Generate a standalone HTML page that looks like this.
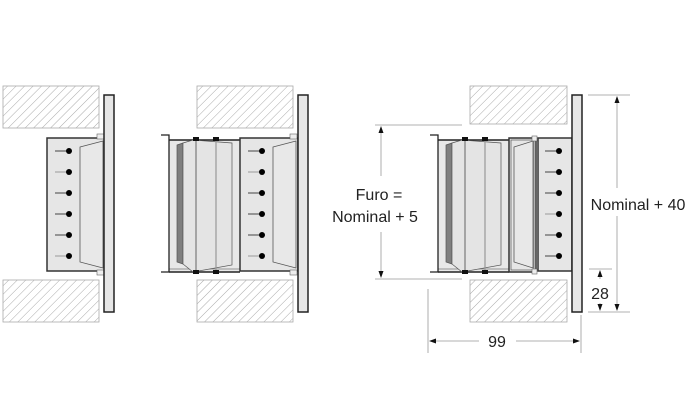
<!DOCTYPE html>
<html><head><meta charset="utf-8"><style>
html,body{margin:0;padding:0;background:#fff;}
svg{display:block;}
text{font-family:"Liberation Sans",sans-serif;fill:#222;}
</style></head><body>
<svg width="690" height="420" viewBox="0 0 690 420" xmlns="http://www.w3.org/2000/svg">
<defs>
<pattern id="h" patternUnits="userSpaceOnUse" width="6" height="6" patternTransform="rotate(45)">
<line x1="0" y1="0" x2="0" y2="6" stroke="#aaa" stroke-width="1"/>
</pattern>
<g id="grille">
<rect x="0" y="138" width="58" height="133" fill="#e6e6e6" stroke="#333" stroke-width="1.5"/>
<path d="M33 147 L56 141 L56 268 L33 262 Z" fill="#e8e8e8" stroke="#555" stroke-width="0.8"/>
<rect x="50" y="134" width="7" height="5" fill="#eee" stroke="#666" stroke-width="0.6"/>
<rect x="50" y="270" width="7" height="5" fill="#eee" stroke="#666" stroke-width="0.6"/>
<g stroke="#444" stroke-width="1">
<line x1="8" y1="151" x2="22" y2="151"/><line x1="8" y1="172" x2="22" y2="172" stroke="#999"/>
<line x1="8" y1="193" x2="22" y2="193"/><line x1="8" y1="214" x2="22" y2="214"/>
<line x1="8" y1="235" x2="22" y2="235"/><line x1="8" y1="256" x2="22" y2="256" stroke="#999"/>
</g>
<g fill="#000">
<circle cx="22" cy="151" r="3"/><circle cx="22" cy="172" r="3"/><circle cx="22" cy="193" r="3"/>
<circle cx="22" cy="214" r="3"/><circle cx="22" cy="235" r="3"/><circle cx="22" cy="256" r="3"/>
</g>
</g>
<g id="flange">
<rect x="0" y="95" width="10" height="217" fill="#e6e6e6" stroke="#222" stroke-width="1.5"/>
</g>
<g id="damper">
<rect x="0" y="140" width="71" height="132" fill="#e8e8e8" stroke="none"/>
<line x1="0" y1="140" x2="71" y2="140" stroke="#222" stroke-width="1.5"/>
<line x1="0" y1="272" x2="71" y2="272" stroke="#222" stroke-width="1.5"/>
<line x1="0" y1="269" x2="71" y2="269" stroke="#777" stroke-width="0.7"/>
<path d="M-8 135 L0 135 L0 272 L-8 272" fill="none" stroke="#222" stroke-width="1.3"/>
<path d="M8 145 L14 143 L14 264 L8 262 Z" fill="#7f7f7f" stroke="#555" stroke-width="0.7"/>
<path d="M14 143 L24 140 L63 143 L63 265 L24 272 L14 264 Z" fill="#e4e4e4" stroke="#555" stroke-width="0.7"/>
<line x1="27" y1="140" x2="27" y2="272" stroke="#444" stroke-width="0.8"/>
<line x1="47" y1="140" x2="47" y2="272" stroke="#999" stroke-width="1.2"/>
<rect x="24" y="137" width="6" height="4" fill="#111"/><rect x="44" y="137" width="6" height="4" fill="#111"/>
<rect x="24" y="270" width="6" height="4" fill="#111"/><rect x="44" y="270" width="6" height="4" fill="#111"/>
</g>
</defs>

<rect x="3" y="86" width="96" height="42" fill="url(#h)" stroke="#aaa" stroke-width="0.8"/>
<rect x="3" y="280" width="96" height="42" fill="url(#h)" stroke="#aaa" stroke-width="0.8"/>
<rect x="197" y="86" width="96" height="42" fill="url(#h)" stroke="#aaa" stroke-width="0.8"/>
<rect x="197" y="280" width="96" height="42" fill="url(#h)" stroke="#aaa" stroke-width="0.8"/>
<rect x="470" y="86" width="97" height="38" fill="url(#h)" stroke="#aaa" stroke-width="0.8"/>
<rect x="470" y="280" width="97" height="42" fill="url(#h)" stroke="#aaa" stroke-width="0.8"/>

<use href="#grille" x="47"/>
<use href="#flange" x="104"/>

<use href="#damper" x="169"/>
<use href="#grille" x="240"/>
<use href="#flange" x="298"/>

<use href="#damper" x="438"/>
<rect x="509" y="138" width="27" height="134" fill="#e6e6e6" stroke="#333" stroke-width="1.5"/>
<rect x="511" y="140" width="23" height="130" fill="none" stroke="#555" stroke-width="0.7"/>
<path d="M514 147 L533 141 L533 268 L514 262 Z" fill="#e8e8e8" stroke="#555" stroke-width="0.8"/>
<rect x="532" y="136" width="5" height="5" fill="#eee" stroke="#666" stroke-width="0.6"/>
<rect x="532" y="269" width="5" height="5" fill="#eee" stroke="#666" stroke-width="0.6"/>
<rect x="538" y="138" width="34" height="133" fill="#e6e6e6" stroke="#333" stroke-width="1.5"/>
<g stroke="#444" stroke-width="1">
<line x1="545" y1="151" x2="559" y2="151"/><line x1="545" y1="172" x2="559" y2="172"/>
<line x1="545" y1="193" x2="559" y2="193"/><line x1="545" y1="214" x2="559" y2="214" stroke="#999"/>
<line x1="545" y1="235" x2="559" y2="235"/><line x1="545" y1="256" x2="559" y2="256"/>
</g>
<g fill="#000">
<circle cx="559" cy="151" r="3"/><circle cx="559" cy="172" r="3"/><circle cx="559" cy="193" r="3"/>
<circle cx="559" cy="214" r="3"/><circle cx="559" cy="235" r="3"/><circle cx="559" cy="256" r="3"/>
</g>
<use href="#flange" x="572"/>

<g stroke="#999" stroke-width="0.8" fill="none">
<line x1="375" y1="125" x2="462" y2="125"/>
<line x1="375" y1="279" x2="462" y2="279"/>
<line x1="381" y1="130" x2="381" y2="176"/>
<line x1="381" y1="232" x2="381" y2="274"/>
<line x1="588" y1="95" x2="630" y2="95"/>
<line x1="588" y1="312" x2="630" y2="312"/>
<line x1="617" y1="100" x2="617" y2="188"/>
<line x1="617" y1="216" x2="617" y2="307"/>
<line x1="589" y1="269" x2="612" y2="269"/>
<line x1="600" y1="274" x2="600" y2="279"/>
<line x1="600" y1="303" x2="600" y2="307"/>
<line x1="428" y1="289" x2="428" y2="353"/>
<line x1="581" y1="315" x2="581" y2="353"/>
<line x1="433" y1="341" x2="479" y2="341"/>
<line x1="516" y1="341" x2="576" y2="341"/>
</g>
<g fill="#111">
<path d="M381 126 L378.5 133 L383.5 133 Z"/>
<path d="M381 278 L378.5 271 L383.5 271 Z"/>
<path d="M617 96 L614.5 103 L619.5 103 Z"/>
<path d="M617 311 L614.5 304 L619.5 304 Z"/>
<path d="M600 270 L597.5 277 L602.5 277 Z"/>
<path d="M600 311 L597.5 304 L602.5 304 Z"/>
<path d="M429 341 L436 338.5 L436 343.5 Z"/>
<path d="M580 341 L573 338.5 L573 343.5 Z"/>
</g>
<text x="379" y="200" font-size="16" text-anchor="middle">Furo =</text>
<text x="375" y="222" font-size="16" text-anchor="middle">Nominal + 5</text>
<text x="638" y="210" font-size="16" text-anchor="middle">Nominal  + 40</text>
<text x="600" y="299" font-size="16" text-anchor="middle">28</text>
<text x="497" y="347" font-size="16" text-anchor="middle">99</text>
</svg>
</body></html>
